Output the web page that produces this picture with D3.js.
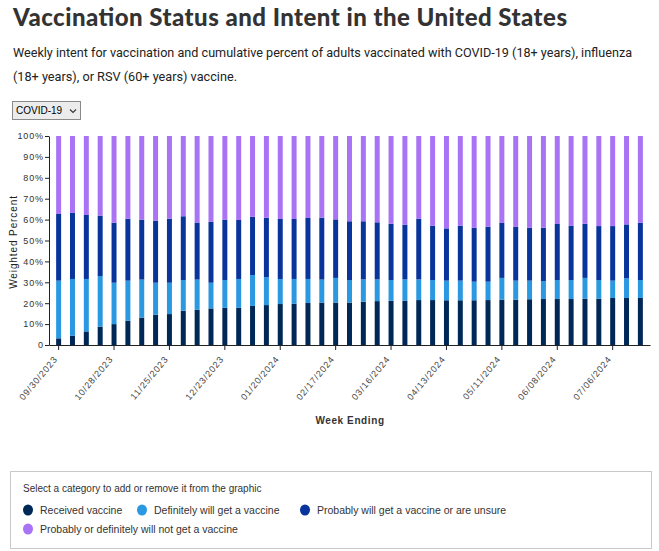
<!DOCTYPE html>
<html>
<head>
<meta charset="utf-8">
<script src="https://cdn.jsdelivr.net/npm/d3@7"></script>
<style>
  body { margin: 0; background: #fff; width: 659px; height: 551px; overflow: hidden; position: relative; }
  #chart { position: absolute; left: 0; top: 0; }
  #sel { position: absolute; left: 12px; top: 101px; width: 69px; height: 19px; font: 10px "Liberation Sans", Arial, sans-serif;
         border: 1px solid #8a8a8a; background: #ececec; color: #000; padding: 0 0 0 3px; border-radius: 0;
         -webkit-appearance: none; appearance: none; box-sizing: border-box; }
  #chev { position: absolute; left: 68px; top: 106px; pointer-events: none; }
</style>
</head>
<body>
<svg id="chart" width="659" height="551"></svg>
<select id="sel"><option>COVID-19</option><option>Influenza</option><option>RSV</option></select>
<svg id="chev" width="10" height="10"><path d="M2,3.5 L5,6.5 L8,3.5" fill="none" stroke="#333" stroke-width="1.1"/></svg>
<script>
const weeks = ["09/30/2023","10/07/2023","10/14/2023","10/21/2023","10/28/2023","11/04/2023","11/11/2023","11/18/2023","11/25/2023","12/02/2023","12/09/2023","12/16/2023","12/23/2023","12/30/2023","01/06/2024","01/13/2024","01/20/2024","01/27/2024","02/03/2024","02/10/2024","02/17/2024","02/24/2024","03/02/2024","03/09/2024","03/16/2024","03/23/2024","03/30/2024","04/06/2024","04/13/2024","04/20/2024","04/27/2024","05/04/2024","05/11/2024","05/18/2024","05/25/2024","06/01/2024","06/08/2024","06/15/2024","06/22/2024","06/29/2024","07/06/2024","07/13/2024","07/20/2024"];
const received   = [3.2,4.5,6.5,8.8,10.0,11.6,13.1,14.5,14.8,16.4,16.9,17.5,17.8,17.8,18.7,19.1,19.6,19.8,20.1,20.3,20.3,20.3,20.7,21.0,21.2,21.2,21.5,21.5,21.4,21.4,21.4,21.5,21.7,21.7,21.9,22.0,22.0,22.0,22.2,22.2,22.5,22.5,22.5];
const definitely = [27.6,27.1,25.1,24.2,19.8,19.2,18.2,15.3,15.0,14.7,14.4,12.3,13.3,13.8,14.8,13.3,12.0,11.8,11.5,11.0,11.8,10.8,10.7,10.4,9.9,10.2,9.9,9.6,9.4,9.4,8.9,8.8,10.4,9.1,8.9,8.6,9.1,9.1,9.9,8.9,8.3,9.4,8.6];
const probably   = [31.9,31.6,30.6,28.9,28.7,29.6,28.7,29.7,30.6,30.5,27.3,29.2,28.9,28.2,27.9,28.5,28.7,28.7,29.2,29.6,28.0,28.1,27.8,27.3,26.9,26.2,29.0,26.0,25.0,26.3,25.8,26.3,26.3,25.7,25.3,25.5,26.8,26.0,25.9,25.8,26.1,25.8,27.4];
const notGet     = [37.3,36.8,37.8,38.1,41.5,39.6,40.0,40.5,39.6,38.4,41.4,41.0,40.0,40.2,38.6,39.1,39.7,39.7,39.2,39.1,39.9,40.8,40.8,41.3,42.0,42.4,39.6,42.9,44.2,42.9,43.9,43.4,41.6,43.5,43.9,43.9,42.1,42.9,42.0,43.1,43.1,42.3,41.5];
const seriesNames = ["Received vaccine","Definitely will get a vaccine","Probably will get a vaccine or are unsure","Probably or definitely will not get a vaccine"];
const seriesColors = ["#002856","#2b98e2","#08349c","#a873f4"];
const yTicks = [0,10,20,30,40,50,60,70,80,90,100];

const rows = weeks.map((w,i) => ({week: w, s0: received[i], s1: definitely[i], s2: probably[i], s3: notGet[i]}));
const keys = ["s0","s1","s2","s3"];
const stacked = d3.stack().keys(keys)(rows);

const svg = d3.select("#chart");
const FONT = "'Liberation Sans', Arial, sans-serif";

// Title & subtitle
svg.append("text").attr("x", 13).attr("y", 26).text("Vaccination Status and Intent in the United States")
  .attr("font-family", "Lato, sans-serif").attr("font-weight", 900).attr("font-size", 24)
  .attr("textLength", 554).attr("lengthAdjust", "spacing").attr("fill", "#333");
svg.append("text").attr("x", 13).attr("y", 57).text("Weekly intent for vaccination and cumulative percent of adults vaccinated with COVID-19 (18+ years), influenza")
  .attr("font-family", "Roboto, sans-serif").attr("font-size", 13)
  .attr("textLength", 619).attr("lengthAdjust", "spacingAndGlyphs").attr("fill", "#222");
svg.append("text").attr("x", 13).attr("y", 81).text("(18+ years), or RSV (60+ years) vaccine.")
  .attr("font-family", "Roboto, sans-serif").attr("font-size", 13)
  .attr("textLength", 224).attr("lengthAdjust", "spacingAndGlyphs").attr("fill", "#222");

const x = d3.scaleBand().domain(weeks).range([49, 650]).paddingInner(0.64).paddingOuter(0.515);
const y = d3.scaleLinear().domain([0, 100]).range([345, 136]);

// bars
svg.append("g").selectAll("g").data(stacked).join("g")
  .attr("fill", (d,i) => seriesColors[i])
  .selectAll("rect").data(d => d).join("rect")
  .attr("x", d => x(d.data.week))
  .attr("width", x.bandwidth())
  .attr("y", d => y(d[1]))
  .attr("height", d => y(d[0]) - y(d[1]));

// y axis
const yAxis = svg.append("g").attr("transform", "translate(49,0)")
  .call(d3.axisLeft(y).tickValues(yTicks).tickSize(4).tickSizeOuter(0).tickFormat(d => d === 0 ? "0" : d + "%"));
yAxis.selectAll("text").attr("font-family", FONT).attr("font-size", 9).attr("letter-spacing", 0.9).attr("fill", "#333").attr("x", -5);
yAxis.selectAll("line, path").attr("stroke", "#222");

// x axis
const tickWeeks = weeks.filter((w,i) => i % 4 === 0);
const xAxis = svg.append("g").attr("transform", "translate(0,345)")
  .call(d3.axisBottom(x).tickValues(tickWeeks).tickSize(5).tickSizeOuter(0));
xAxis.selectAll("line, path").attr("stroke", "#222");
xAxis.selectAll("text")
  .attr("font-family", FONT).attr("font-size", 9).attr("letter-spacing", 0.9).attr("fill", "#444")
  .attr("text-anchor", "end").attr("dy", "0.35em")
  .attr("transform", "translate(-1,10) rotate(-50)").attr("x", -3).attr("y", 0);

// axis titles
svg.append("text").attr("transform", "translate(17,242) rotate(-90)").attr("text-anchor", "middle")
  .text("Weighted Percent").attr("font-family", FONT).attr("font-size", 10).attr("letter-spacing", 0.9).attr("fill", "#222");
svg.append("text").attr("x", 350).attr("y", 424).attr("text-anchor", "middle")
  .text("Week Ending").attr("font-family", FONT).attr("font-weight", "bold").attr("font-size", 10).attr("letter-spacing", 0.6).attr("fill", "#333");

// legend box
svg.append("rect").attr("x", 10.5).attr("y", 471.5).attr("width", 641).attr("height", 77)
  .attr("fill", "none").attr("stroke", "#c8c8c8");
svg.append("text").attr("x", 23).attr("y", 492).text("Select a category to add or remove it from the graphic")
  .attr("font-family", FONT).attr("font-size", 10).attr("fill", "#333");
const legendPos = [[28,510],[142,510],[305,510],[28,529]];
const lg = svg.append("g").selectAll("g").data(seriesNames).join("g")
  .attr("transform", (d,i) => `translate(${legendPos[i][0]},${legendPos[i][1]})`);
lg.append("ellipse").attr("rx", 5).attr("ry", 5.5).attr("fill", (d,i) => seriesColors[i]);
lg.append("text").attr("x", 12).attr("y", 4).text(d => d)
  .attr("font-family", FONT).attr("font-size", 10.5).attr("fill", "#333");
</script>
</body>
</html>
